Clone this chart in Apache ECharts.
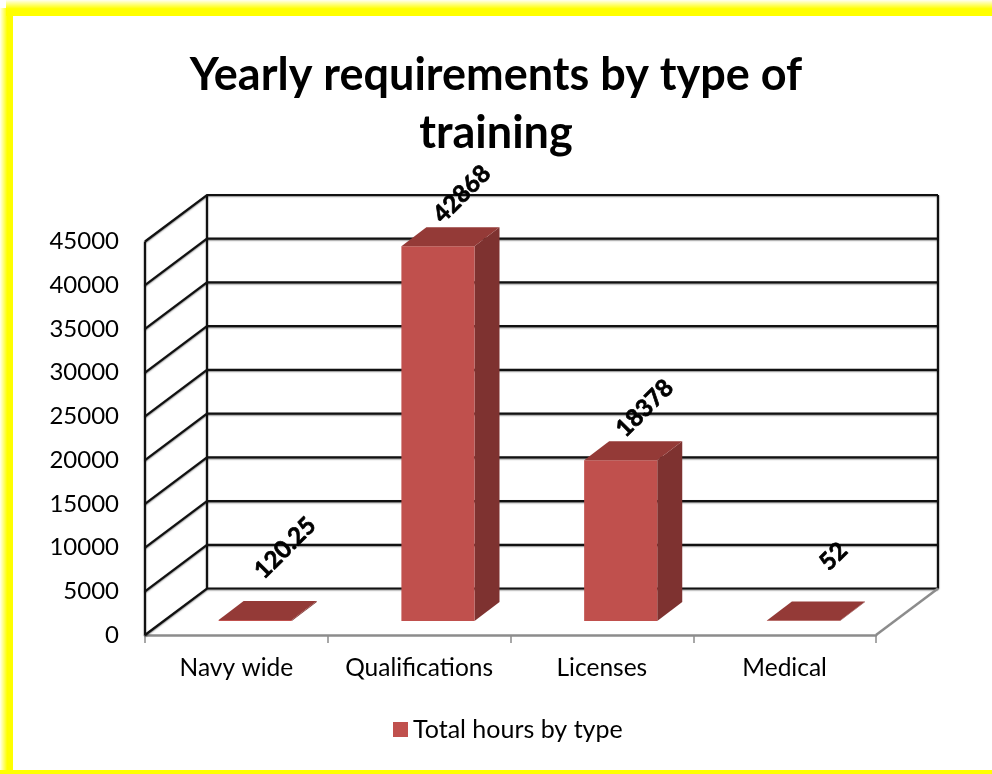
<!DOCTYPE html>
<html><head><meta charset="utf-8">
<style>html,body{margin:0;padding:0;background:#fff}#c{width:992px;height:774px}</style>
<script src="https://cdn.jsdelivr.net/npm/echarts@6/dist/echarts.min.js"></script>
</head><body><div id="c"></div>
<script>
const categories = ['Navy wide','Qualifications','Licenses','Medical'];
const hours = [120.25,42868,18378,52];
const hourLabels = ['120.25','42868','18378','52'];
const yTicks = [0,5000,10000,15000,20000,25000,30000,35000,40000,45000];
const seriesName = 'Total hours by type';

const DX=62, DY=46.5;
const chart = echarts.init(document.getElementById('c'),null,{renderer:'canvas'});
const font='Lato, "Open Sans", sans-serif';
const labelNudge=[[30,-72],[24,-52],[24,-52],[30,-64]];
const lineStyle={stroke:'#111',lineWidth:2.2,fill:null,shadowBlur:1.5,shadowColor:'rgba(0,0,0,0.45)',shadowOffsetY:1};

function renderWall(params, api){
  const tick=api.value(0);
  const cs=params.coordSys;
  const y=api.coord([0,tick])[1];
  const x0=cs.x, x1=cs.x+cs.width;
  const children=[{type:'polyline',shape:{points:[[x0,y],[x0+DX,y-DY],[x1+DX,y-DY]]},style:lineStyle}];
  if(params.dataIndex===0){
    const top=cs.y;
    children.push({type:'line',shape:{x1:x0+DX,y1:y-DY,x2:x0+DX,y2:top-DY},style:lineStyle});
    children.push({type:'line',shape:{x1:x1+DX,y1:y-DY,x2:x1+DX,y2:top-DY},style:lineStyle});
    children.push({type:'line',shape:{x1:x0,y1:y,x2:x0,y2:top},style:lineStyle});
    children.push({type:'line',shape:{x1:x1,y1:y,x2:x1+DX,y2:y-DY},style:{stroke:'#8c8c8c',lineWidth:2.5}});
  }
  return {type:'group',children};
}
function renderBar(params, api){
  const i=api.value(0), v=api.value(1);
  const base=api.coord([i,0]), top=api.coord([i,v]);
  const band=api.size([1,0])[0];
  const w=band*0.4;
  const ox=band*0.103, oy=14, dx=25, dy=19;
  const xl=base[0]-w/2+ox, xr=xl+w;
  const yb=base[1]-oy, yt=top[1]-oy;
  const n=labelNudge[i];
  return {type:'group',children:[
    {type:'polygon',shape:{points:[[xr,yb],[xr+dx,yb-dy],[xr+dx,yt-dy],[xr,yt]]},style:{fill:'#7e3230'}},
    {type:'rect',shape:{x:xl,y:yt,width:w,height:yb-yt},style:{fill:'#c0504d'}},
    {type:'polygon',shape:{points:[[xl,yt],[xr,yt],[xr+dx,yt-dy],[xl+dx,yt-dy]]},style:{fill:'#943a37'}},
    {type:'text',x:(xl+xr)/2+n[0],y:yt+n[1],rotation:Math.PI/4,style:{text:hourLabels[i],fontFamily:'Lato',fontWeight:'bold',fontSize:24,fill:'#000',stroke:'#000',lineWidth:0.7,align:'center',verticalAlign:'middle'}}
  ]};
}
const hGrad=(a,b)=>({type:'linear',x:0,y:0,x2:1,y2:0,colorStops:[{offset:0,color:a},{offset:0.55,color:b},{offset:1,color:b}]});
const vGrad=(a,b)=>({type:'linear',x:0,y:0,x2:0,y2:1,colorStops:[{offset:0,color:a},{offset:0.55,color:b},{offset:1,color:b}]});
chart.setOption({
  animation:false,
  backgroundColor:'#fff',
  title:{text:'Yearly requirements by type of\ntraining',left:491,top:41,textAlign:'center',
    textStyle:{fontFamily:font,fontWeight:'bold',fontSize:45,lineHeight:58,color:'#000'}},
  legend:{data:[{name:seriesName,icon:'rect'}],left:388,top:712,itemWidth:15,itemHeight:15,itemGap:7,
    textStyle:{fontFamily:font,fontSize:25,color:'#000'}},
  grid:{left:145,right:116,top:241.5,bottom:139},
  xAxis:{type:'category',data:categories,
    axisLine:{lineStyle:{color:'#8c8c8c',width:2.5}},
    axisTick:{show:true,length:8,lineStyle:{color:'#8c8c8c',width:1.5}},
    axisLabel:{fontFamily:font,fontSize:24.5,color:'#000',margin:21,interval:0},
    splitLine:{show:false}},
  yAxis:{type:'value',min:0,max:45000,interval:5000,
    axisLine:{show:false},axisTick:{show:false},
    axisLabel:{fontFamily:font,fontSize:24,color:'#000',margin:26,formatter:v=>String(v)},
    splitLine:{show:false}},
  graphic:[
    {type:'rect',z:100,silent:true,shape:{x:0,y:8,width:13,height:766},style:{fill:hGrad('#fffff0','#ffff00')}},
    {type:'rect',z:100,silent:true,shape:{x:6,y:0,width:986,height:16},style:{fill:vGrad('#fffff0','#ffff00')}},
    {type:'rect',z:100,silent:true,shape:{x:0,y:770,width:992,height:4},style:{fill:'#ffff00'}}
  ],
  series:[
    {type:'custom',name:'walls',data:yTicks.map(t=>[t]),encode:{y:0},renderItem:renderWall,silent:true,z:1,clip:false},
    {type:'custom',name:seriesName,data:hours.map((v,i)=>[i,v]),encode:{x:0,y:1},renderItem:renderBar,itemStyle:{color:'#c0504d'},silent:true,z:2,clip:false}
  ]
});
</script></body></html>
